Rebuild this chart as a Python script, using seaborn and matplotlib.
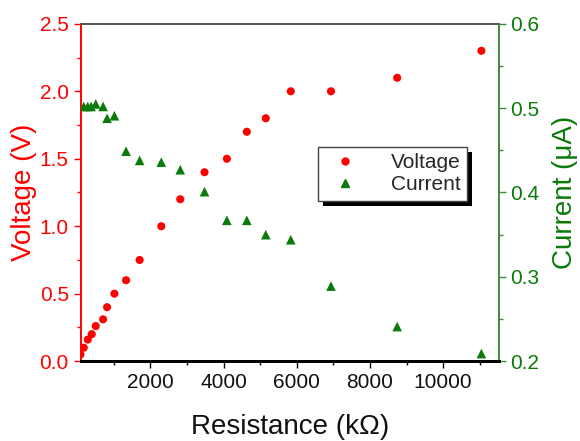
import matplotlib
matplotlib.use("Agg")
import matplotlib.pyplot as plt
import seaborn as sns
import pandas as pd
from matplotlib.ticker import MultipleLocator
from matplotlib.lines import Line2D
from matplotlib.patches import Rectangle

# Data
res_v = [90, 181, 290, 399, 508, 709, 818, 1018, 1336, 1708, 2299, 2817,
         3480, 4091, 4636, 5154, 5836, 6935, 8744, 11045]
voltage = [0.05, 0.10, 0.16, 0.20, 0.26, 0.31, 0.40, 0.50, 0.60, 0.75, 1.00,
           1.20, 1.40, 1.50, 1.70, 1.80, 2.00, 2.00, 2.10, 2.30]
res_i = [181, 290, 382, 508, 709, 818, 1018, 1336, 1708, 2299, 2817,
         3480, 4091, 4636, 5154, 5836, 6935, 8744, 11045]
current = [0.502, 0.502, 0.502, 0.505, 0.502, 0.488, 0.491, 0.449, 0.438,
           0.436, 0.427, 0.401, 0.367, 0.367, 0.350, 0.344, 0.289, 0.241, 0.209]

RED = "#ff0000"
GREEN = "#0a7a0a"
SPINE_GREEN = "#3c8c3c"

sns.set_theme(style="white")
plt.rcParams["font.family"] = ["Liberation Sans", "DejaVu Sans"]
plt.rcParams["xtick.direction"] = "out"
plt.rcParams["ytick.direction"] = "out"

df_v = pd.DataFrame({"R": res_v, "V": voltage})
df_i = pd.DataFrame({"R": res_i, "I": current})

fig = plt.figure(figsize=(5.8, 4.41), dpi=100)
ax = fig.add_axes([0.139, 0.181, 0.721, 0.765])
ax2 = ax.twinx()

sns.scatterplot(data=df_v, x="R", y="V", ax=ax, color=RED, marker="o",
                s=34, edgecolor="none", zorder=3)
sns.scatterplot(data=df_i, x="R", y="I", ax=ax2, color=GREEN, marker="^",
                s=48, edgecolor="none", zorder=3)

ax.set_xlim(95, 11520)
ax.set_ylim(0, 2.5)
ax2.set_ylim(0.2, 0.6)

ax.xaxis.set_major_locator(MultipleLocator(2000))
ax.xaxis.set_minor_locator(MultipleLocator(1000))
ax.yaxis.set_major_locator(MultipleLocator(0.5))
ax.yaxis.set_minor_locator(MultipleLocator(0.25))
ax2.yaxis.set_major_locator(MultipleLocator(0.1))
ax2.yaxis.set_minor_locator(MultipleLocator(0.05))

ax.set_xticks([2000, 4000, 6000, 8000, 10000])
ax.xaxis.set_major_formatter(matplotlib.ticker.FormatStrFormatter("%d"))
ax.yaxis.set_major_formatter(matplotlib.ticker.FormatStrFormatter("%.1f"))
ax2.yaxis.set_major_formatter(matplotlib.ticker.FormatStrFormatter("%.1f"))

for a in (ax, ax2):
    for s in a.spines.values():
        s.set_visible(True)
        s.set_linewidth(1.2)
ax.spines["left"].set_color(RED)
ax2.spines["left"].set_color(RED)
ax2.spines["right"].set_color(SPINE_GREEN)
ax.spines["right"].set_color(SPINE_GREEN)
ax.spines["top"].set_color("#555555")
ax2.spines["top"].set_color("#555555")
ax.spines["bottom"].set_color("black")
ax2.spines["bottom"].set_color("black")
ax.spines["bottom"].set_linewidth(2)
ax2.spines["bottom"].set_linewidth(2)

ax.tick_params(axis="x", which="major", length=5, width=1, colors="black",
               labelsize=15, labelcolor="#111111", bottom=True, top=False)
ax.tick_params(axis="x", which="minor", length=3, width=1, colors="black",
               bottom=True, top=False)
ax.tick_params(axis="y", which="major", length=5, width=1, colors=RED,
               labelsize=15, left=True, right=False)
ax.tick_params(axis="y", which="minor", length=3, width=1, colors=RED,
               left=True, right=False)
ax2.tick_params(axis="y", which="major", length=5, width=1, colors=SPINE_GREEN,
                labelcolor=GREEN, labelsize=15, right=True, left=False)
ax2.tick_params(axis="y", which="minor", length=3, width=1, colors=SPINE_GREEN,
                right=True, left=False)

ax.set_xlabel("Resistance (k\u03a9)", fontsize=20, color="#111111", labelpad=16)
ax.set_ylabel("Voltage (V)", fontsize=20, color=RED, labelpad=2)
ax2.set_ylabel("Current (\u03bcA)", fontsize=20, color=GREEN, labelpad=9)

handles = [
    Line2D([], [], linestyle="none", marker="o", color=RED, markersize=5),
    Line2D([], [], linestyle="none", marker="^", color=GREEN, markersize=6),
]
leg = ax2.legend(handles, ["Voltage", "Current"], loc="upper left",
                 bbox_to_anchor=(0.567, 0.635), borderaxespad=0, fontsize=15,
                 frameon=True, fancybox=False, edgecolor="#444444",
                 framealpha=1.0, handletextpad=1.2,
                 borderpad=0.3, labelspacing=0.15, handlelength=2.0)
leg.get_frame().set_linewidth(1.0)
leg.set_zorder(10)

# thicker drop shadow like the reference
fig.canvas.draw()
bb = leg.get_frame().get_window_extent()
shadow = Rectangle((bb.x0 + 5, bb.y0 - 5), bb.width, bb.height,
                   transform=None, facecolor="black", edgecolor="none",
                   zorder=9)
ax2.add_artist(shadow)

fig.savefig("out.png", dpi=100)
